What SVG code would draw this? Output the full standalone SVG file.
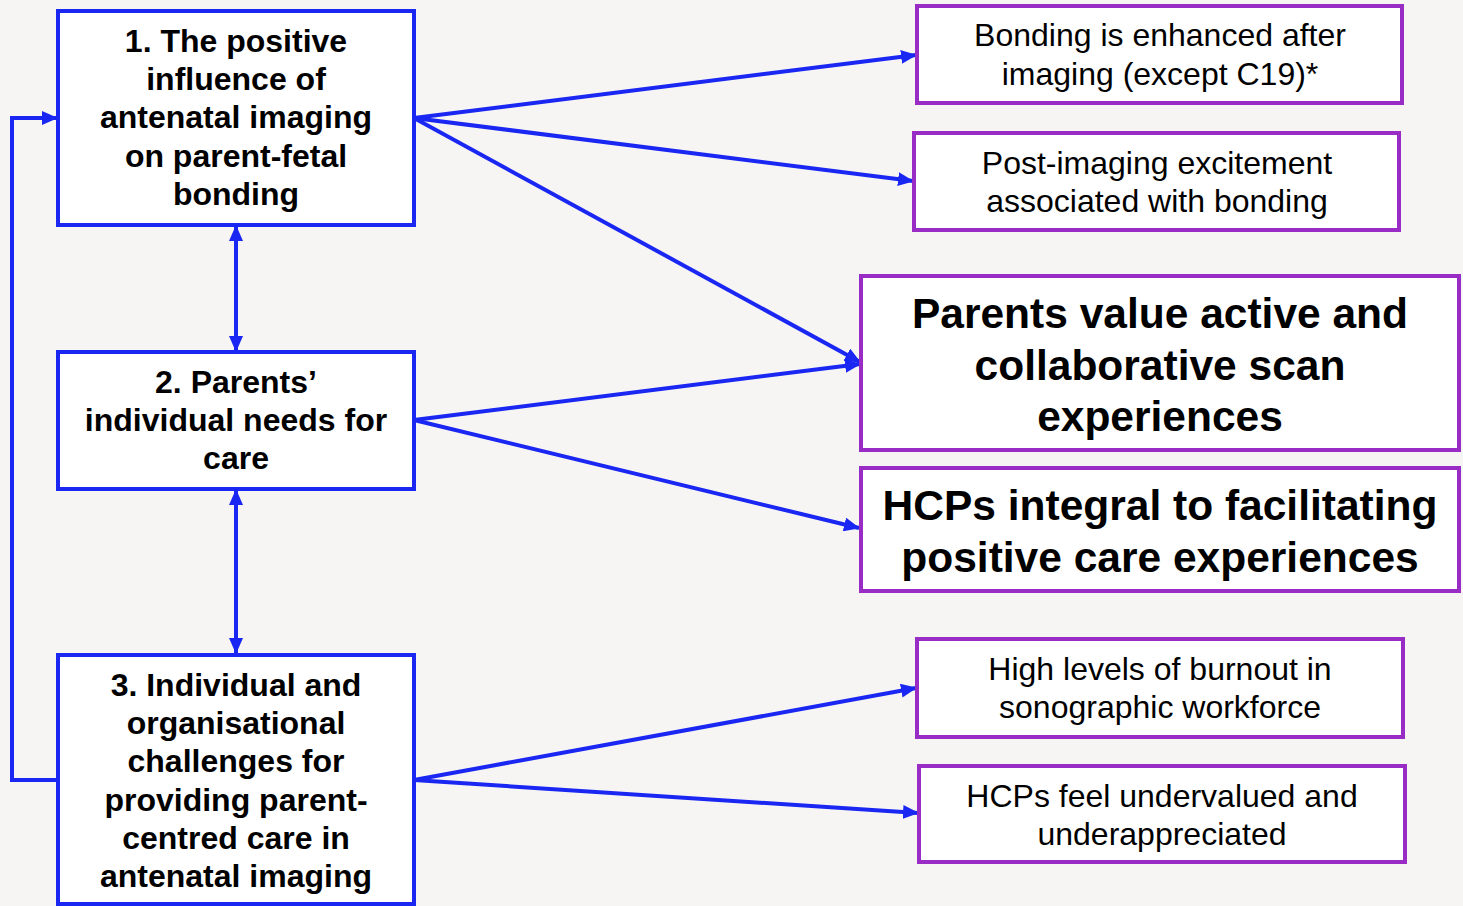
<svg xmlns="http://www.w3.org/2000/svg" width="1463" height="906" viewBox="0 0 1463 906">
<style>
.bg{fill:#f6f5f4}
.lbox{fill:#ffffff;stroke:#1a26f2;stroke-width:4}
.rbox{fill:#ffffff;stroke:#9a2cc6;stroke-width:4}
.bt{font-family:"Liberation Sans",Arial,sans-serif;font-weight:bold;font-size:32px;fill:#000;text-anchor:middle}
.rt{font-family:"Liberation Sans",Arial,sans-serif;font-size:32px;fill:#000;text-anchor:middle}
.big{font-family:"Liberation Sans",Arial,sans-serif;font-weight:bold;font-size:42.5px;fill:#000;text-anchor:middle}
.con{fill:none;stroke:#1a26f2;stroke-width:4}
</style>
<defs>
<marker id="ah" markerUnits="userSpaceOnUse" markerWidth="16" markerHeight="14" refX="15" refY="7" orient="auto-start-reverse">
<path d="M0,0 L16,7 L0,14 Z" fill="#1a26f2"/>
</marker>
</defs>
<rect class="bg" x="0" y="0" width="1463" height="906"/>
<g id="connectors">
<path class="con" d="M414,118 L916,55" marker-end="url(#ah)"/>
<path class="con" d="M414,118 L913,181" marker-end="url(#ah)"/>
<path class="con" d="M414,118 L860,362" marker-end="url(#ah)"/>
<path class="con" d="M414,420 L860,364" marker-end="url(#ah)"/>
<path class="con" d="M414,420 L859,528" marker-end="url(#ah)"/>
<path class="con" d="M414,780 L916,688" marker-end="url(#ah)"/>
<path class="con" d="M414,780 L918,813" marker-end="url(#ah)"/>
<path class="con" d="M236,226 L236,351" marker-start="url(#ah)" marker-end="url(#ah)"/>
<path class="con" d="M236,490 L236,653" marker-start="url(#ah)" marker-end="url(#ah)"/>
<path class="con" d="M58,780 L12,780 L12,118 L57,118" marker-end="url(#ah)"/>
</g>
<g id="node1">
<rect class="lbox" x="58" y="11" width="356" height="214"/>
<text class="bt" x="236" y="52">1. The positive</text>
<text class="bt" x="236" y="90">influence of</text>
<text class="bt" x="236" y="128">antenatal imaging</text>
<text class="bt" x="236" y="167">on parent-fetal</text>
<text class="bt" x="236" y="205">bonding</text>
</g>
<g id="node2">
<rect class="lbox" x="58" y="352" width="356" height="137"/>
<text class="bt" x="236" y="393">2. Parents’</text>
<text class="bt" x="236" y="431">individual needs for</text>
<text class="bt" x="236" y="469">care</text>
</g>
<g id="node3">
<rect class="lbox" x="58" y="655" width="356" height="249"/>
<text class="bt" x="236" y="696">3. Individual and</text>
<text class="bt" x="236" y="734">organisational</text>
<text class="bt" x="236" y="772">challenges for</text>
<text class="bt" x="236" y="811">providing parent-</text>
<text class="bt" x="236" y="849">centred care in</text>
<text class="bt" x="236" y="887">antenatal imaging</text>
</g>
<g id="nodeA">
<rect class="rbox" x="917" y="6" width="485" height="97"/>
<text class="rt" x="1160" y="46">Bonding is enhanced after</text>
<text class="rt" x="1160" y="85">imaging (except C19)*</text>
</g>
<g id="nodeB">
<rect class="rbox" x="914" y="133" width="485" height="97"/>
<text class="rt" x="1157" y="174">Post-imaging excitement</text>
<text class="rt" x="1157" y="212">associated with bonding</text>
</g>
<g id="nodeC">
<rect class="rbox" x="861" y="276" width="598" height="174"/>
<text class="big" x="1160" y="328">Parents value active and</text>
<text class="big" x="1160" y="380">collaborative scan</text>
<text class="big" x="1160" y="431">experiences</text>
</g>
<g id="nodeD">
<rect class="rbox" x="861" y="468" width="598" height="123"/>
<text class="big" x="1160" y="520">HCPs integral to facilitating</text>
<text class="big" x="1160" y="572">positive care experiences</text>
</g>
<g id="nodeE">
<rect class="rbox" x="917" y="639" width="486" height="98"/>
<text class="rt" x="1160" y="680">High levels of burnout in</text>
<text class="rt" x="1160" y="718">sonographic workforce</text>
</g>
<g id="nodeF">
<rect class="rbox" x="919" y="766" width="486" height="96"/>
<text class="rt" x="1162" y="807">HCPs feel undervalued and</text>
<text class="rt" x="1162" y="845">underappreciated</text>
</g>
</svg>
